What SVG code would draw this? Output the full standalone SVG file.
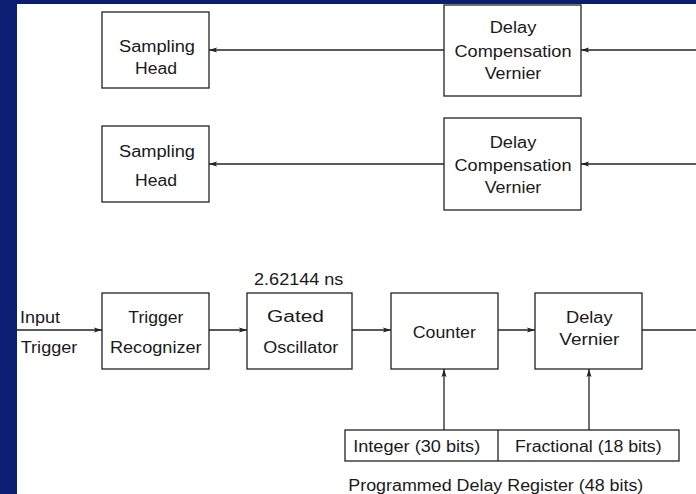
<svg xmlns="http://www.w3.org/2000/svg" width="696" height="494" viewBox="0 0 696 494">
<style>
.bx{fill:#fff;stroke:#222;stroke-width:1.3}
.ln{fill:none;stroke:#222;stroke-width:1.3}
text{font-family:"Liberation Sans",Arial,sans-serif;font-size:16px;fill:#1a1a1a}
.m{text-anchor:middle}
</style>
<defs>
<marker id="ah" markerUnits="userSpaceOnUse" markerWidth="10" markerHeight="8" viewBox="0 0 10 8" refX="9" refY="4" orient="auto">
<path d="M1,1.5 L9,4 L1,6.5 L2.5,4 z" fill="#222"/>
</marker>
</defs>
<rect x="0" y="0" width="696" height="494" fill="#fff"/>
<rect x="0" y="0" width="696" height="4" fill="#0a1f72"/>
<rect x="0" y="0" width="17" height="494" fill="#0a1f72"/>

<g id="connectors">
<line class="ln" x1="444" y1="50" x2="209" y2="50" marker-end="url(#ah)"/>
<line class="ln" x1="444" y1="164" x2="209" y2="164" marker-end="url(#ah)"/>
<line class="ln" x1="696" y1="50" x2="581" y2="50" marker-end="url(#ah)"/>
<line class="ln" x1="696" y1="164" x2="581" y2="164" marker-end="url(#ah)"/>
<line class="ln" x1="17" y1="330" x2="102" y2="330" marker-end="url(#ah)"/>
<line class="ln" x1="209" y1="330" x2="247" y2="330" marker-end="url(#ah)"/>
<line class="ln" x1="352" y1="330" x2="391" y2="330" marker-end="url(#ah)"/>
<line class="ln" x1="498" y1="330" x2="535" y2="330" marker-end="url(#ah)"/>
<line class="ln" x1="642" y1="330" x2="696" y2="330"/>
<line class="ln" x1="444" y1="430" x2="444" y2="369" marker-end="url(#ah)"/>
<line class="ln" x1="589" y1="430" x2="589" y2="369" marker-end="url(#ah)"/>
</g>

<g id="sampling-head-1">
<rect class="bx" x="102" y="12" width="107" height="76"/>
<text class="m" x="157" y="51.5" textLength="76" lengthAdjust="spacingAndGlyphs">Sampling</text>
<text class="m" x="156" y="74" textLength="42" lengthAdjust="spacingAndGlyphs">Head</text>
</g>
<g id="sampling-head-2">
<rect class="bx" x="102" y="126" width="107" height="76"/>
<text class="m" x="157" y="156.5" textLength="76" lengthAdjust="spacingAndGlyphs">Sampling</text>
<text class="m" x="156" y="185.5" textLength="42" lengthAdjust="spacingAndGlyphs">Head</text>
</g>
<g id="delay-comp-1">
<rect class="bx" x="444" y="5" width="137" height="91"/>
<text class="m" x="513" y="33.3" textLength="46.7" lengthAdjust="spacingAndGlyphs">Delay</text>
<text class="m" x="513" y="56.7" textLength="117" lengthAdjust="spacingAndGlyphs">Compensation</text>
<text class="m" x="513" y="79.3" textLength="56.7" lengthAdjust="spacingAndGlyphs">Vernier</text>
</g>
<g id="delay-comp-2">
<rect class="bx" x="444" y="118" width="137" height="92"/>
<text class="m" x="513" y="148.3" textLength="46.7" lengthAdjust="spacingAndGlyphs">Delay</text>
<text class="m" x="513" y="171" textLength="117" lengthAdjust="spacingAndGlyphs">Compensation</text>
<text class="m" x="513" y="193.3" textLength="56.7" lengthAdjust="spacingAndGlyphs">Vernier</text>
</g>

<g id="input-label">
<text x="20" y="323" textLength="40" lengthAdjust="spacingAndGlyphs">Input</text>
<text x="20.7" y="353" textLength="56.7" lengthAdjust="spacingAndGlyphs">Trigger</text>
</g>
<g id="trigger-recognizer">
<rect class="bx" x="102" y="293" width="107" height="76"/>
<text class="m" x="155.8" y="323" textLength="55" lengthAdjust="spacingAndGlyphs">Trigger</text>
<text class="m" x="155.8" y="353" textLength="91.7" lengthAdjust="spacingAndGlyphs">Recognizer</text>
</g>
<g id="gated-oscillator">
<text class="m" x="298.7" y="285" textLength="89.3" lengthAdjust="spacingAndGlyphs">2.62144 ns</text>
<rect class="bx" x="247" y="293" width="105" height="76"/>
<text class="m" x="295.5" y="322" textLength="57" lengthAdjust="spacingAndGlyphs">Gated</text>
<text class="m" x="300.8" y="353" textLength="75" lengthAdjust="spacingAndGlyphs">Oscillator</text>
</g>
<g id="counter">
<rect class="bx" x="391" y="293" width="107" height="76"/>
<text class="m" x="444.3" y="338" textLength="63.3" lengthAdjust="spacingAndGlyphs">Counter</text>
</g>
<g id="delay-vernier">
<rect class="bx" x="535" y="293" width="107" height="76"/>
<text class="m" x="589.3" y="323" textLength="46.7" lengthAdjust="spacingAndGlyphs">Delay</text>
<text class="m" x="589.3" y="345" textLength="60" lengthAdjust="spacingAndGlyphs">Vernier</text>
</g>
<g id="delay-register">
<rect class="bx" x="345" y="430" width="334" height="31"/>
<line class="ln" x1="498" y1="430" x2="498" y2="461"/>
<text class="m" x="416.7" y="451.5" textLength="127" lengthAdjust="spacingAndGlyphs">Integer (30 bits)</text>
<text class="m" x="588.3" y="451.5" textLength="146.7" lengthAdjust="spacingAndGlyphs">Fractional (18 bits)</text>
<text class="m" x="495.8" y="490.5" textLength="295" lengthAdjust="spacingAndGlyphs">Programmed Delay Register (48 bits)</text>
</g>
</svg>
